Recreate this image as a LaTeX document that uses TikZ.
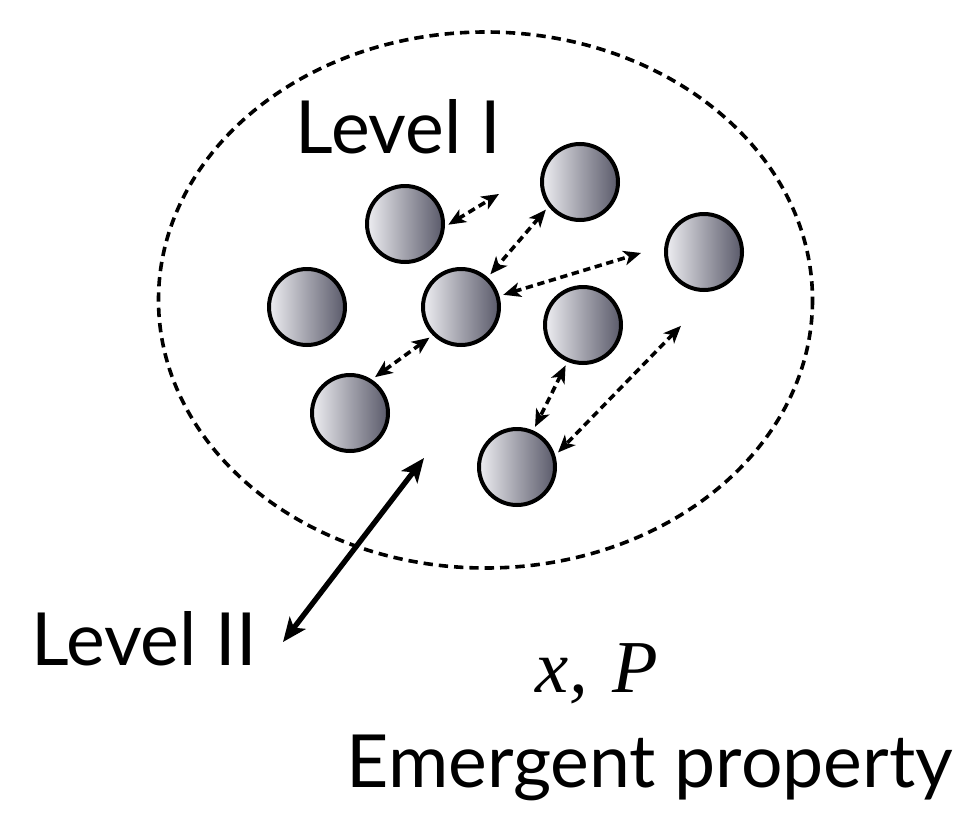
\documentclass[tikz,border=0pt]{standalone}
\usepackage{fontspec}
\setmainfont{Lato}
\newfontfamily\timesit{Liberation Serif}
\usetikzlibrary{arrows.meta}

\definecolor{ballLight}{RGB}{238,238,242}
\definecolor{ballMid}{RGB}{162,162,172}
\definecolor{ballDark}{RGB}{90,90,106}

\tikzset{
  ball/.style={circle, draw=black, line width=3pt, minimum size=57pt, inner sep=0pt,
    left color=ballLight, right color=ballDark, middle color=ballMid},
  link/.style={line width=2.7pt, dash pattern=on 5.5pt off 3.5pt, shorten <=3pt, shorten >=3pt,
    {Stealth[length=13pt,width=11pt,inset=3.5pt]}-{Stealth[length=13pt,width=11pt,inset=3.5pt]}},
  levelarrow/.style={line width=4pt,
    {Stealth[length=18pt,width=15pt,inset=4.5pt]}-{Stealth[length=18pt,width=15pt,inset=4.5pt]}},
  bigtext/.style={font=\fontsize{55}{62}\selectfont, inner sep=0pt, anchor=base},
}

\begin{document}
\begin{tikzpicture}[x=0.75pt,y=0.75pt,yscale=-1,xscale=1]
\path (0,0) rectangle (974,835); %set diagram to the reference size

%Shape: Ellipse [level I boundary]
\draw [line width=2.7pt, dash pattern=on 7pt off 4.5pt] (485.5,300) ellipse [x radius=327, y radius=268];

%Shape: Circles [agents]
\node [ball] (a) at (405,224) {};
\node [ball] (b) at (580,182) {};
\node [ball] (c) at (307,307) {};
\node [ball] (d) at (461,307) {};
\node [ball] (e) at (704,252) {};
\node [ball] (f) at (583,325) {};
\node [ball] (g) at (350,413) {};
\node [ball] (h) at (517,467) {};

%Free ends of the links
\coordinate (abEnd) at (502.4,191.9);
\coordinate (deEnd) at (644.8,251.8);
\coordinate (ehEnd) at (683.7,323);

%Dashed Lines [interactions]
\draw [link] (a.-4) -- (abEnd);
\draw [link] (b.218) -- (d.48);
\draw [link] (d.16) -- (deEnd);
\draw [link] (d.225) -- (g.57);
\draw [link] (f.247) -- (h.66);
\draw [link] (ehEnd) -- (h.17);

% Text Node
\node [bigtext] (lvl1) at (398.5,153) {Level I};
% Text Node
\node [bigtext] (lvl2) at (144,665) {Level II};
% Text Node
\node [font=\fontsize{56}{62}\selectfont\timesit\itshape, inner sep=0pt, anchor=base] (xp) at (597,692) {x,\,\,P};
% Text Node
\node [bigtext] (emerg) at (650,787) {Emergent property};

%Straight Lines [level II link]
\coordinate (lvlTop) at (424,458);
\coordinate (lvlBot) at (283,642);
\draw [levelarrow] (lvlBot) -- (lvlTop);

\end{tikzpicture}
\end{document}
